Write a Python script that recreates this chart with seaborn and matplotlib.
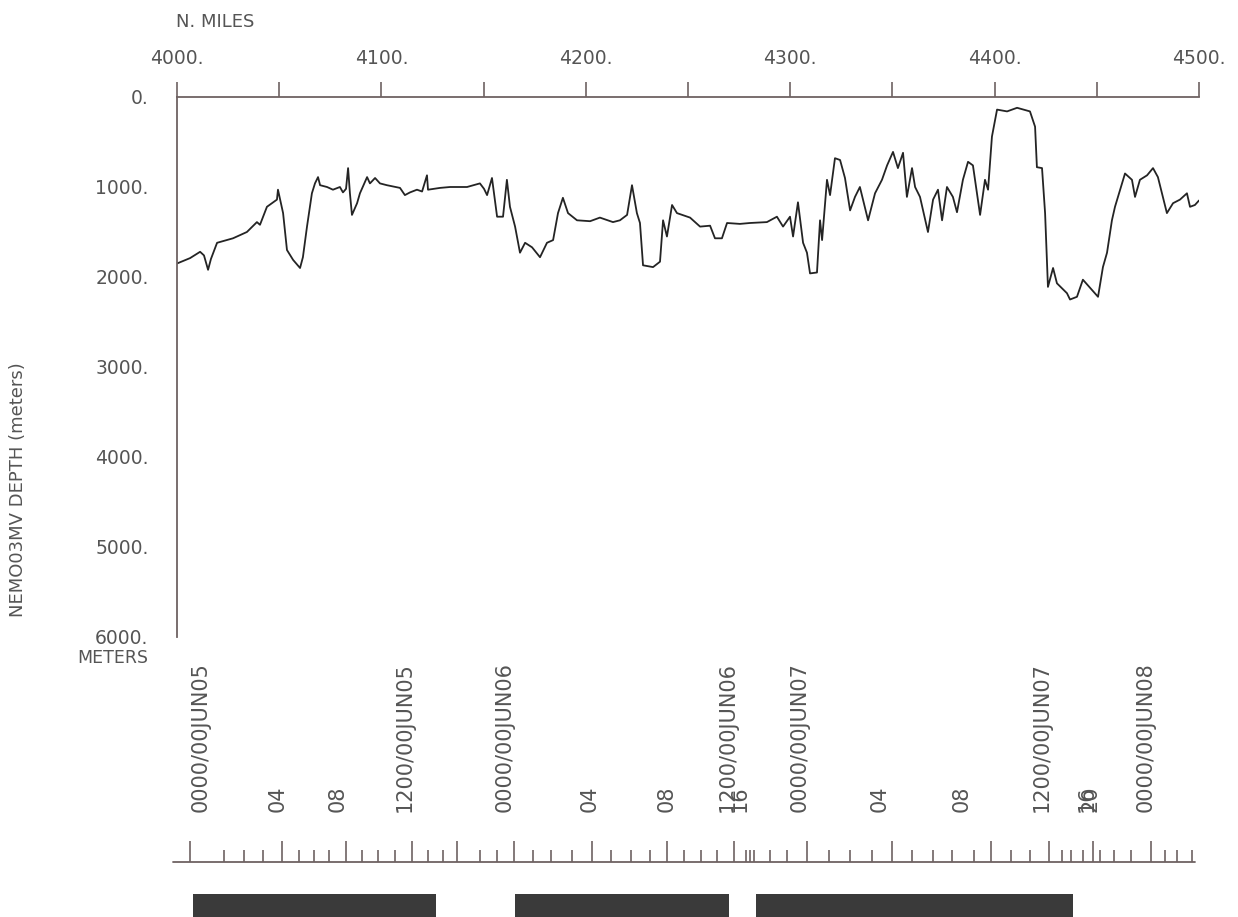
import matplotlib
matplotlib.use("Agg")
import matplotlib.pyplot as plt
import pandas as pd
import seaborn as sns
from matplotlib.ticker import FixedLocator, FixedFormatter, MultipleLocator

# ---- bathymetric profile: distance along track (n. miles) vs depth (m) ----
distance_nm = [
    4000.0, 4006.4, 4011.3, 4013.2, 4015.2, 4016.6, 4019.6, 4027.4, 4034.2, 4039.1,
    4040.6, 4044.0, 4048.9, 4049.4, 4051.9, 4053.8, 4056.8, 4060.2, 4061.6, 4063.6,
    4066.0, 4067.5, 4069.0, 4070.0, 4073.4, 4076.3, 4079.7, 4081.2, 4082.7, 4083.7,
    4084.6, 4085.6, 4088.1, 4089.5, 4093.0, 4094.4, 4096.9, 4099.3, 4102.7, 4109.1,
    4111.5, 4114.0, 4117.4, 4119.9, 4122.3, 4122.8, 4128.7, 4133.6, 4141.9, 4148.2,
    4150.2, 4151.7, 4154.1, 4156.6, 4159.5, 4161.4, 4162.9, 4165.4, 4167.8, 4170.3,
    4173.7, 4177.6, 4181.0, 4184.0, 4186.4, 4188.8, 4191.3, 4195.7, 4202.1, 4206.9,
    4213.3, 4216.7, 4220.2, 4222.6, 4225.0, 4226.5, 4228.0, 4232.9, 4236.3, 4237.8,
    4239.7, 4242.2, 4244.6, 4251.0, 4255.9, 4260.8, 4263.2, 4266.6, 4269.1, 4275.4,
    4280.3, 4288.6, 4293.5, 4296.5, 4299.9, 4301.4, 4303.8, 4306.3, 4308.2, 4309.7,
    4313.1, 4314.6, 4315.6, 4318.0, 4319.5, 4321.9, 4324.4, 4326.8, 4329.3, 4331.7,
    4334.1, 4338.1, 4341.5, 4344.9, 4347.4, 4350.3, 4352.7, 4355.2, 4357.1, 4359.6,
    4361.1, 4363.5, 4367.4, 4369.9, 4372.3, 4374.3, 4376.7, 4379.6, 4381.6, 4384.5,
    4387.0, 4389.4, 4392.9, 4395.3, 4396.8, 4398.7, 4401.2, 4406.1, 4411.0, 4417.3,
    4419.8, 4420.7, 4423.2, 4424.7, 4426.1, 4428.6, 4430.5, 4435.4, 4436.9, 4440.3,
    4443.2, 4446.7, 4450.6, 4453.0, 4455.0, 4457.4, 4458.9, 4461.4, 4463.8, 4467.2,
    4468.7, 4471.1, 4474.6, 4477.5, 4479.9, 4484.3, 4487.3, 4490.7, 4494.1, 4495.6,
    4498.0, 4500.0,
]
depth_m = [
    1850, 1790, 1720, 1760, 1920, 1800, 1620, 1570, 1500, 1390,
    1420, 1220, 1140, 1030, 1290, 1700, 1810, 1900, 1780, 1440,
    1070, 960, 890, 980, 1000, 1030, 1000, 1060, 1020, 790,
    1070, 1310, 1180, 1070, 890, 960, 900, 960, 980, 1010,
    1090, 1060, 1030, 1050, 870, 1030, 1010, 1000, 1000, 960,
    1020, 1090, 900, 1330, 1330, 920, 1220, 1440, 1730, 1620,
    1670, 1780, 1620, 1590, 1290, 1120, 1290, 1370, 1380, 1340,
    1390, 1370, 1310, 980, 1290, 1400, 1870, 1890, 1830, 1370,
    1550, 1200, 1290, 1340, 1440, 1430, 1570, 1570, 1400, 1410,
    1400, 1390, 1330, 1440, 1330, 1550, 1170, 1620, 1730, 1960,
    1950, 1370, 1590, 920, 1090, 680, 700, 900, 1260, 1110,
    1000, 1370, 1070, 920, 760, 610, 790, 620, 1110, 790,
    1000, 1110, 1500, 1140, 1030, 1370, 1000, 1110, 1280, 920,
    720, 760, 1310, 920, 1030, 440, 140, 160, 120, 160,
    330, 780, 790, 1290, 2110, 1900, 2070, 2180, 2250, 2220,
    2030, 2120, 2220, 1890, 1730, 1370, 1220, 1030, 850, 920,
    1110, 920, 870, 790, 890, 1290, 1180, 1140, 1070, 1220,
    1200, 1150,
]

# ---- axis scales ----
distance_ticks = [4000, 4100, 4200, 4300, 4400, 4500]
distance_tick_labels = ["4000.", "4100.", "4200.", "4300.", "4400.", "4500."]
depth_ticks = [0, 1000, 2000, 3000, 4000, 5000, 6000]
depth_tick_labels = ["0.", "1000.", "2000.", "3000.", "4000.", "5000.", "6000."]

# ---- time annotations along the track ----
time_label_nm = [4011.7, 4049.4, 4078.8, 4111.5, 4160.5, 4202.1, 4239.7, 4269.6,
                 4275.4, 4304.8, 4343.9, 4384.1, 4423.2, 4445.2, 4446.7, 4474.1]
time_labels = ["0000/00JUN05", "04", "08", "1200/00JUN05", "0000/00JUN06", "04", "08",
               "1200/00JUN06", "16", "0000/00JUN07", "04", "08", "1200/00JUN07",
               "16", "20", "0000/00JUN08"]

# four-hourly marks and the remaining hourly marks on the time ruler
major_mark_nm = [4006.6, 4051.6, 4082.5, 4114.9, 4137.2, 4164.9, 4203.2, 4239.9,
                 4272.5, 4308.2, 4349.8, 4398.1, 4426.5, 4448.1, 4476.5]
minor_mark_nm = [4023.2, 4032.6, 4042.2, 4059.9, 4067.2, 4074.2, 4090.6, 4098.2,
                 4106.6, 4122.6, 4129.9, 4148.2, 4156.6, 4174.2, 4183.2, 4193.2,
                 4212.5, 4221.9, 4231.5, 4248.2, 4256.5, 4264.2, 4278.2, 4280.5,
                 4282.5, 4289.9, 4298.2, 4319.2, 4329.2, 4339.8, 4359.8, 4369.8,
                 4379.2, 4389.8, 4408.2, 4417.2, 4433.2, 4437.2, 4443.2, 4451.5,
                 4458.2, 4466.5, 4483.2, 4489.2, 4496.5]

# recording intervals (bars under the ruler)
record_start_nm = [4007.8, 4165.4, 4283.3]
record_end_nm = [4126.7, 4270.1, 4438.2]

# ---------------------------------------------------------------------------
sns.set_style("white")
plt.rcParams["font.family"] = ["DejaVu Sans"]

W, H = 1238, 917
fig = plt.figure(figsize=(W / 100, H / 100), dpi=100)


def box(x0, y0, x1, y1):
    """Axes rectangle from pixel edges (origin at top-left)."""
    return [x0 / W, 1 - y1 / H, (x1 - x0) / W, (y1 - y0) / H]


AXIS_COLOR = "#6e6262"
TEXT_COLOR = "#555555"
LINE_COLOR = "#242424"

ax = fig.add_axes(box(177, 97, 1199, 637))
profile = pd.DataFrame({"distance": distance_nm, "depth": depth_m})
sns.lineplot(data=profile, x="distance", y="depth", ax=ax, color=LINE_COLOR,
             linewidth=1.3, estimator=None, sort=False)
ax.set_xlim(distance_ticks[0], distance_ticks[-1])
ax.set_ylim(depth_ticks[-1], depth_ticks[0])
ax.set_xlabel("")
ax.set_ylabel("")

for side in ("bottom", "right"):
    ax.spines[side].set_visible(False)
for side in ("top", "left"):
    ax.spines[side].set_color(AXIS_COLOR)
    ax.spines[side].set_linewidth(1.3)

ax.xaxis.set_ticks_position("top")
ax.xaxis.set_major_locator(FixedLocator(distance_ticks))
ax.xaxis.set_major_formatter(FixedFormatter(distance_tick_labels))
ax.xaxis.set_minor_locator(MultipleLocator(50))
ax.yaxis.set_major_locator(FixedLocator(depth_ticks))
ax.yaxis.set_major_formatter(FixedFormatter(depth_tick_labels))
ax.yaxis.set_minor_locator(MultipleLocator(500))

ax.tick_params(axis="x", which="both", direction="out", length=11, width=1.2,
               color=AXIS_COLOR, labelsize=13.5, labelcolor=TEXT_COLOR, pad=10)
ax.tick_params(axis="y", which="both", direction="out", length=12.5, width=1.2,
               color=AXIS_COLOR, labelsize=13.5, labelcolor=TEXT_COLOR, pad=8)

fig.text(176 / W, 1 - 22 / H, "N. MILES", ha="left", va="center",
         fontsize=13, color=TEXT_COLOR)
fig.text(148 / W, 1 - 658 / H, "METERS", ha="right", va="center",
         fontsize=12.5, color=TEXT_COLOR)
fig.text(18 / W, 1 - 490 / H, "NEMO03MV DEPTH (meters)", rotation=90,
         ha="center", va="center", fontsize=13, color=TEXT_COLOR)

# ---- time ruler, labels and recording bars (y in pixel rows) ----
ax2 = fig.add_axes(box(177, 640, 1199, H))
ax2.set_xlim(distance_ticks[0], distance_ticks[-1])
ax2.set_ylim(H, 640)
ax2.axis("off")

RULER_Y = 862
ax2.axhline(RULER_Y, xmin=-0.004, xmax=0.996, color=AXIS_COLOR, lw=1.3,
            clip_on=False)
ax2.vlines(major_mark_nm, RULER_Y, RULER_Y - 21, color=AXIS_COLOR, lw=1.2)
ax2.vlines(minor_mark_nm, RULER_Y, RULER_Y - 12, color=AXIS_COLOR, lw=1.2)

for pos, lab in zip(time_label_nm, time_labels):
    ax2.text(pos, 812, lab, rotation=90, ha="center", va="bottom",
             fontsize=15, color=TEXT_COLOR)

widths = [e - s for s, e in zip(record_start_nm, record_end_nm)]
ax2.bar(record_start_nm, height=H - 894 + 5, width=widths, bottom=894,
        align="edge", color="#3a3a3a", linewidth=0, clip_on=False)

fig.savefig("out.png", dpi=100, facecolor="white")
